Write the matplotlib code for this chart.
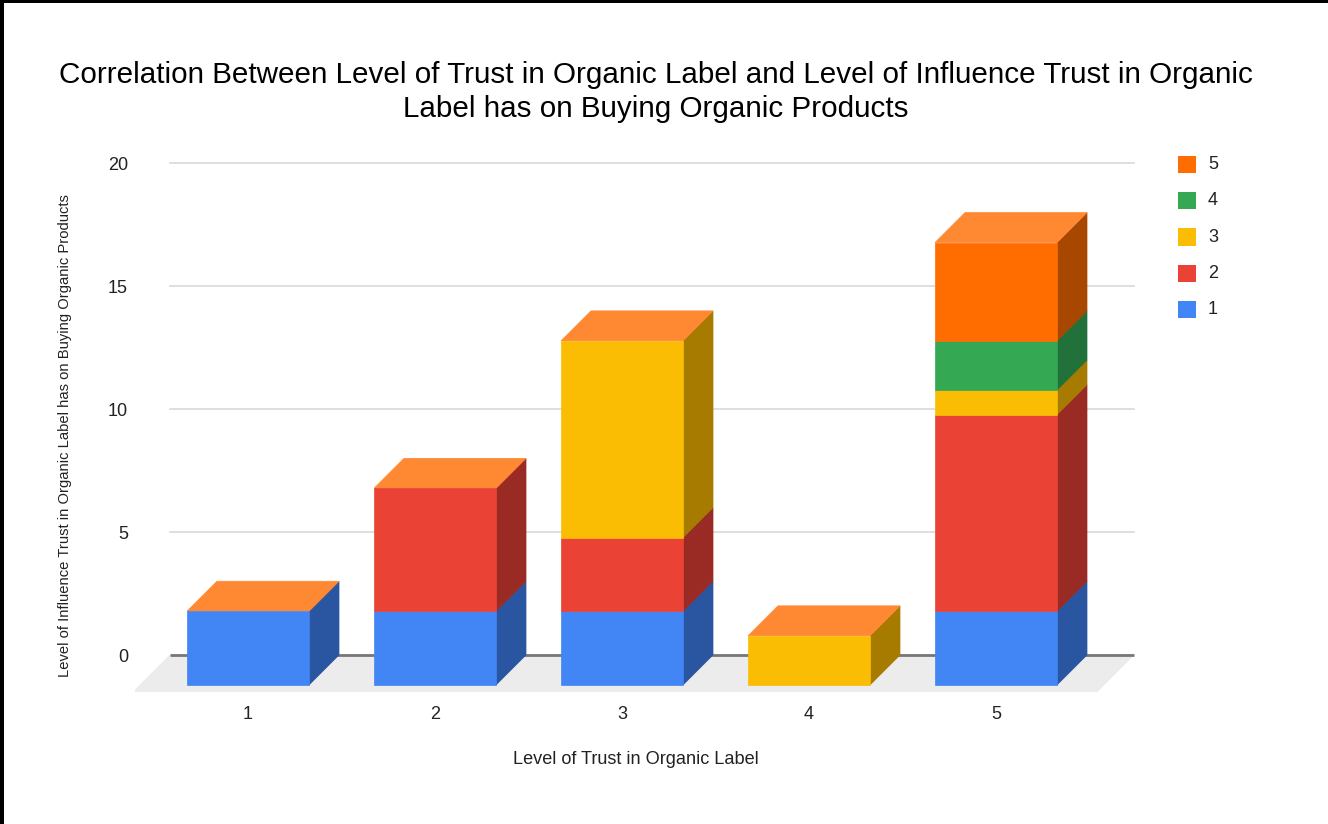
import numpy as np
import matplotlib
matplotlib.use("Agg")
import matplotlib.pyplot as plt
from matplotlib.patches import Polygon, Rectangle

# counts per trust level, stacked by influence level
trust_levels = [1, 2, 3, 4, 5]
series_names = ["1", "2", "3", "4", "5"]
influence_1 = [3, 3, 3, 0, 3]
influence_2 = [0, 5, 3, 0, 8]
influence_3 = [0, 0, 8, 2, 1]
influence_4 = [0, 0, 0, 0, 2]
influence_5 = [0, 0, 0, 0, 4]
y_ticks = [0, 5, 10, 15, 20]

front_colors = ["#4285f4", "#ea4335", "#fbbc04", "#34a853", "#ff6d01"]
side_colors = ["#2a55a0", "#992a24", "#a67b00", "#22703a", "#a84700"]
top_color = "#ff8933"
text_color = "#222222"

plt.rcParams["font.family"] = ["Liberation Sans", "DejaVu Sans"]

W, H = 1328, 824
fig = plt.figure(figsize=(W / 100, H / 100), dpi=100)

# pixel layout of the plotting area
L, R, T, B = 135, 1145, 150, 700
px_x, px_y = 187.0, 24.58      # pixels per category / per unit
cat1_px, zero_px = 248, 655
ax = fig.add_axes([L / W, (H - B) / H, (R - L) / W, (B - T) / H])
ax.set_xlim(1 + (L - cat1_px) / px_x, 1 + (R - cat1_px) / px_x)
ax.set_ylim((zero_px - B) / px_y, (zero_px - T) / px_y)

# 3d depth of the bars and the floor
dx, dy = 30 / px_x, 30 / px_y
fdx, fdy = 37 / px_x, 37 / px_y
bar_w = 122 / px_x
half_floor = 2.58
mid = np.mean(trust_levels)

# floor
back_l, back_r = mid + dx - half_floor, mid + dx + half_floor
ax.add_patch(Polygon([(back_l, 0), (back_r, 0), (back_r - fdx, -fdy), (back_l - fdx, -fdy)],
                     closed=True, facecolor="#ececec", edgecolor="none", zorder=1))

# gridlines on the back wall
for t in y_ticks:
    if t == 0:
        ax.plot([back_l, back_r], [0, 0], color="#777777", lw=2, zorder=2, solid_capstyle="butt")
    else:
        ax.plot([back_l, back_r], [t, t], color="#d9d9d9", lw=1.2, zorder=2)

series = [influence_1, influence_2, influence_3, influence_4, influence_5]
bottoms = np.zeros(len(trust_levels))
for k, vals in enumerate(series):
    for i, x in enumerate(trust_levels):
        v = vals[i]
        if v == 0:
            continue
        b = bottoms[i]
        xl, xr = x - bar_w / 2, x + bar_w / 2
        ax.add_patch(Rectangle((xl, b - dy), bar_w, v, facecolor=front_colors[k],
                               edgecolor=front_colors[k], lw=0.5, zorder=5))
        ax.add_patch(Polygon([(xr, b - dy), (xr, b + v - dy), (xr + dx, b + v), (xr + dx, b)],
                             closed=True, facecolor=side_colors[k], edgecolor=side_colors[k],
                             lw=0.5, zorder=4))
    bottoms += np.array(vals)

for i, x in enumerate(trust_levels):
    top = bottoms[i]
    xl, xr = x - bar_w / 2, x + bar_w / 2
    ax.add_patch(Polygon([(xl, top - dy), (xr, top - dy), (xr + dx, top), (xl + dx, top)],
                         closed=True, facecolor=top_color, edgecolor=top_color, lw=0.5, zorder=4))

ax.set_yticks(y_ticks)
ax.set_yticklabels([str(t) for t in y_ticks])
ax.set_xticks(trust_levels)
ax.set_xticklabels([str(t) for t in trust_levels])
ax.tick_params(axis="y", length=0, pad=5, labelsize=13, labelcolor=text_color)
ax.tick_params(axis="x", length=0, pad=4, labelsize=13, labelcolor=text_color)
for s in ax.spines.values():
    s.set_visible(False)

# titles
fig.text(656 / W, 1 - 75 / H, "Correlation Between Level of Trust in Organic Label and Level of Influence Trust in Organic",
         ha="center", va="center", fontsize=21.3, color="#000000")
fig.text(656 / W, 1 - 109 / H, "Label has on Buying Organic Products",
         ha="center", va="center", fontsize=21.3, color="#000000")
fig.text(636 / W, 1 - 760 / H, "Level of Trust in Organic Label",
         ha="center", va="center", fontsize=13.1, color=text_color)
fig.text(65 / W, 1 - 436 / H, "Level of Influence Trust in Organic Label has on Buying Organic Products",
         ha="center", va="center", rotation=90, fontsize=10.6, color=text_color)

# legend, top series first
leg_y = [309.3, 273.3, 237.0, 200.7, 164.7]
for k in range(len(series_names) - 1, -1, -1):
    cy = leg_y[k]
    fig.patches.append(Rectangle(((1178) / W, 1 - (cy + 8.5) / H), 18 / W, 17 / H,
                                 transform=fig.transFigure, facecolor=front_colors[k],
                                 edgecolor="none"))
    fig.text(1208 / W, 1 - cy / H, series_names[k], ha="left", va="center",
             fontsize=13, color=text_color)

# frame on the left and top edges
fig.patches.append(Rectangle((0, 0), 4 / W, 1, transform=fig.transFigure,
                             facecolor="black", edgecolor="none"))
fig.patches.append(Rectangle((0, 1 - 3 / H), 1, 3 / H, transform=fig.transFigure,
                             facecolor="black", edgecolor="none"))

fig.savefig("out.png", dpi=100)
